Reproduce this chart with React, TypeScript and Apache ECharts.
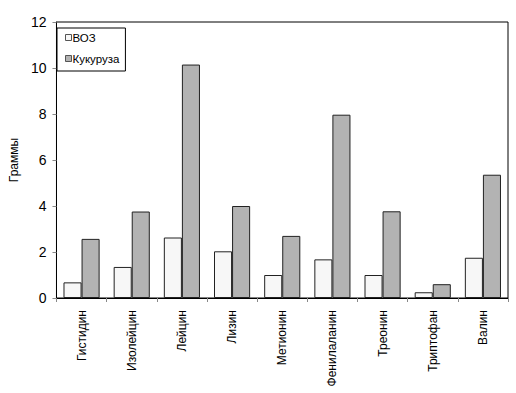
import React, { useEffect, useRef } from "react";
import * as echarts from "echarts";

const categories = ["Гистидин", "Изолейцин", "Лейцин", "Лизин", "Метионин", "Фенилаланин", "Треонин", "Триптофан", "Валин"];
const whoValues = [0.68, 1.35, 2.63, 2.03, 1.0, 1.68, 1.0, 0.25, 1.75];
const cornValues = [2.57, 3.76, 10.15, 4.0, 2.7, 7.97, 3.77, 0.6, 5.36];
const seriesNames = ["ВОЗ", "Кукуруза"];
const yTicks = [0, 2, 4, 6, 8, 10, 12];

const FONT = "'Liberation Sans', Arial, sans-serif";

export default function App() {
  const ref = useRef<HTMLDivElement>(null);
  useEffect(() => {
    document.body.style.margin = "0";
    const chart = echarts.init(ref.current!, undefined, { renderer: "svg" });
    chart.setOption({
      animation: false,
      backgroundColor: "#ffffff",
      textStyle: { fontFamily: FONT },
      grid: {
        left: 54, right: 8, top: 22, bottom: 95,
        show: true, borderColor: "#000", borderWidth: 1, backgroundColor: "transparent",
      },
      legend: {
        orient: "vertical", left: 57, top: 28,
        data: seriesNames,
        itemWidth: 6, itemHeight: 6, itemGap: 8,
        padding: [3, 6, 6, 8],
        borderColor: "#000", borderWidth: 1,
        icon: "rect",
        itemStyle: { borderColor: "#555", borderWidth: 1 },
        textStyle: { fontFamily: FONT, fontSize: 11.5, color: "#000", padding: [0, 0, 0, -4], lineHeight: 13 },
      },
      xAxis: {
        type: "category",
        data: categories,
        axisLine: { lineStyle: { color: "#000", width: 1 } },
        axisTick: { show: true, length: 4, lineStyle: { color: "#888" } },
        axisLabel: { rotate: 90, fontFamily: FONT, fontSize: 12, color: "#000", margin: 12 },
      },
      yAxis: {
        type: "value", min: 0, max: 12, interval: 2,
        name: "Граммы", nameLocation: "middle", nameGap: 29, nameRotate: 90,
        nameTextStyle: { fontFamily: FONT, fontSize: 12, color: "#000" },
        axisLine: { show: true, lineStyle: { color: "#000" } },
        axisTick: { show: true, length: 4, lineStyle: { color: "#888" } },
        axisLabel: { fontFamily: FONT, fontSize: 14, color: "#000", margin: 10,
          formatter: (v: number) => (yTicks.includes(v) ? String(v) : "") },
        splitLine: { show: false },
      },
      series: [
        {
          name: seriesNames[0], type: "bar", data: whoValues,
          barGap: "0%", barCategoryGap: "28%",
          itemStyle: { color: "#f7f7f7", borderColor: "#222", borderWidth: 1 },
        },
        {
          name: seriesNames[1], type: "bar", data: cornValues,
          barGap: "0%", barCategoryGap: "28%",
          itemStyle: { color: "#b3b3b3", borderColor: "#222", borderWidth: 1 },
        },
      ],
    });
    return () => chart.dispose();
  }, []);
  return <div ref={ref} style={{ position: "fixed", left: 0, top: 0, width: 516, height: 393 }} />;
}
